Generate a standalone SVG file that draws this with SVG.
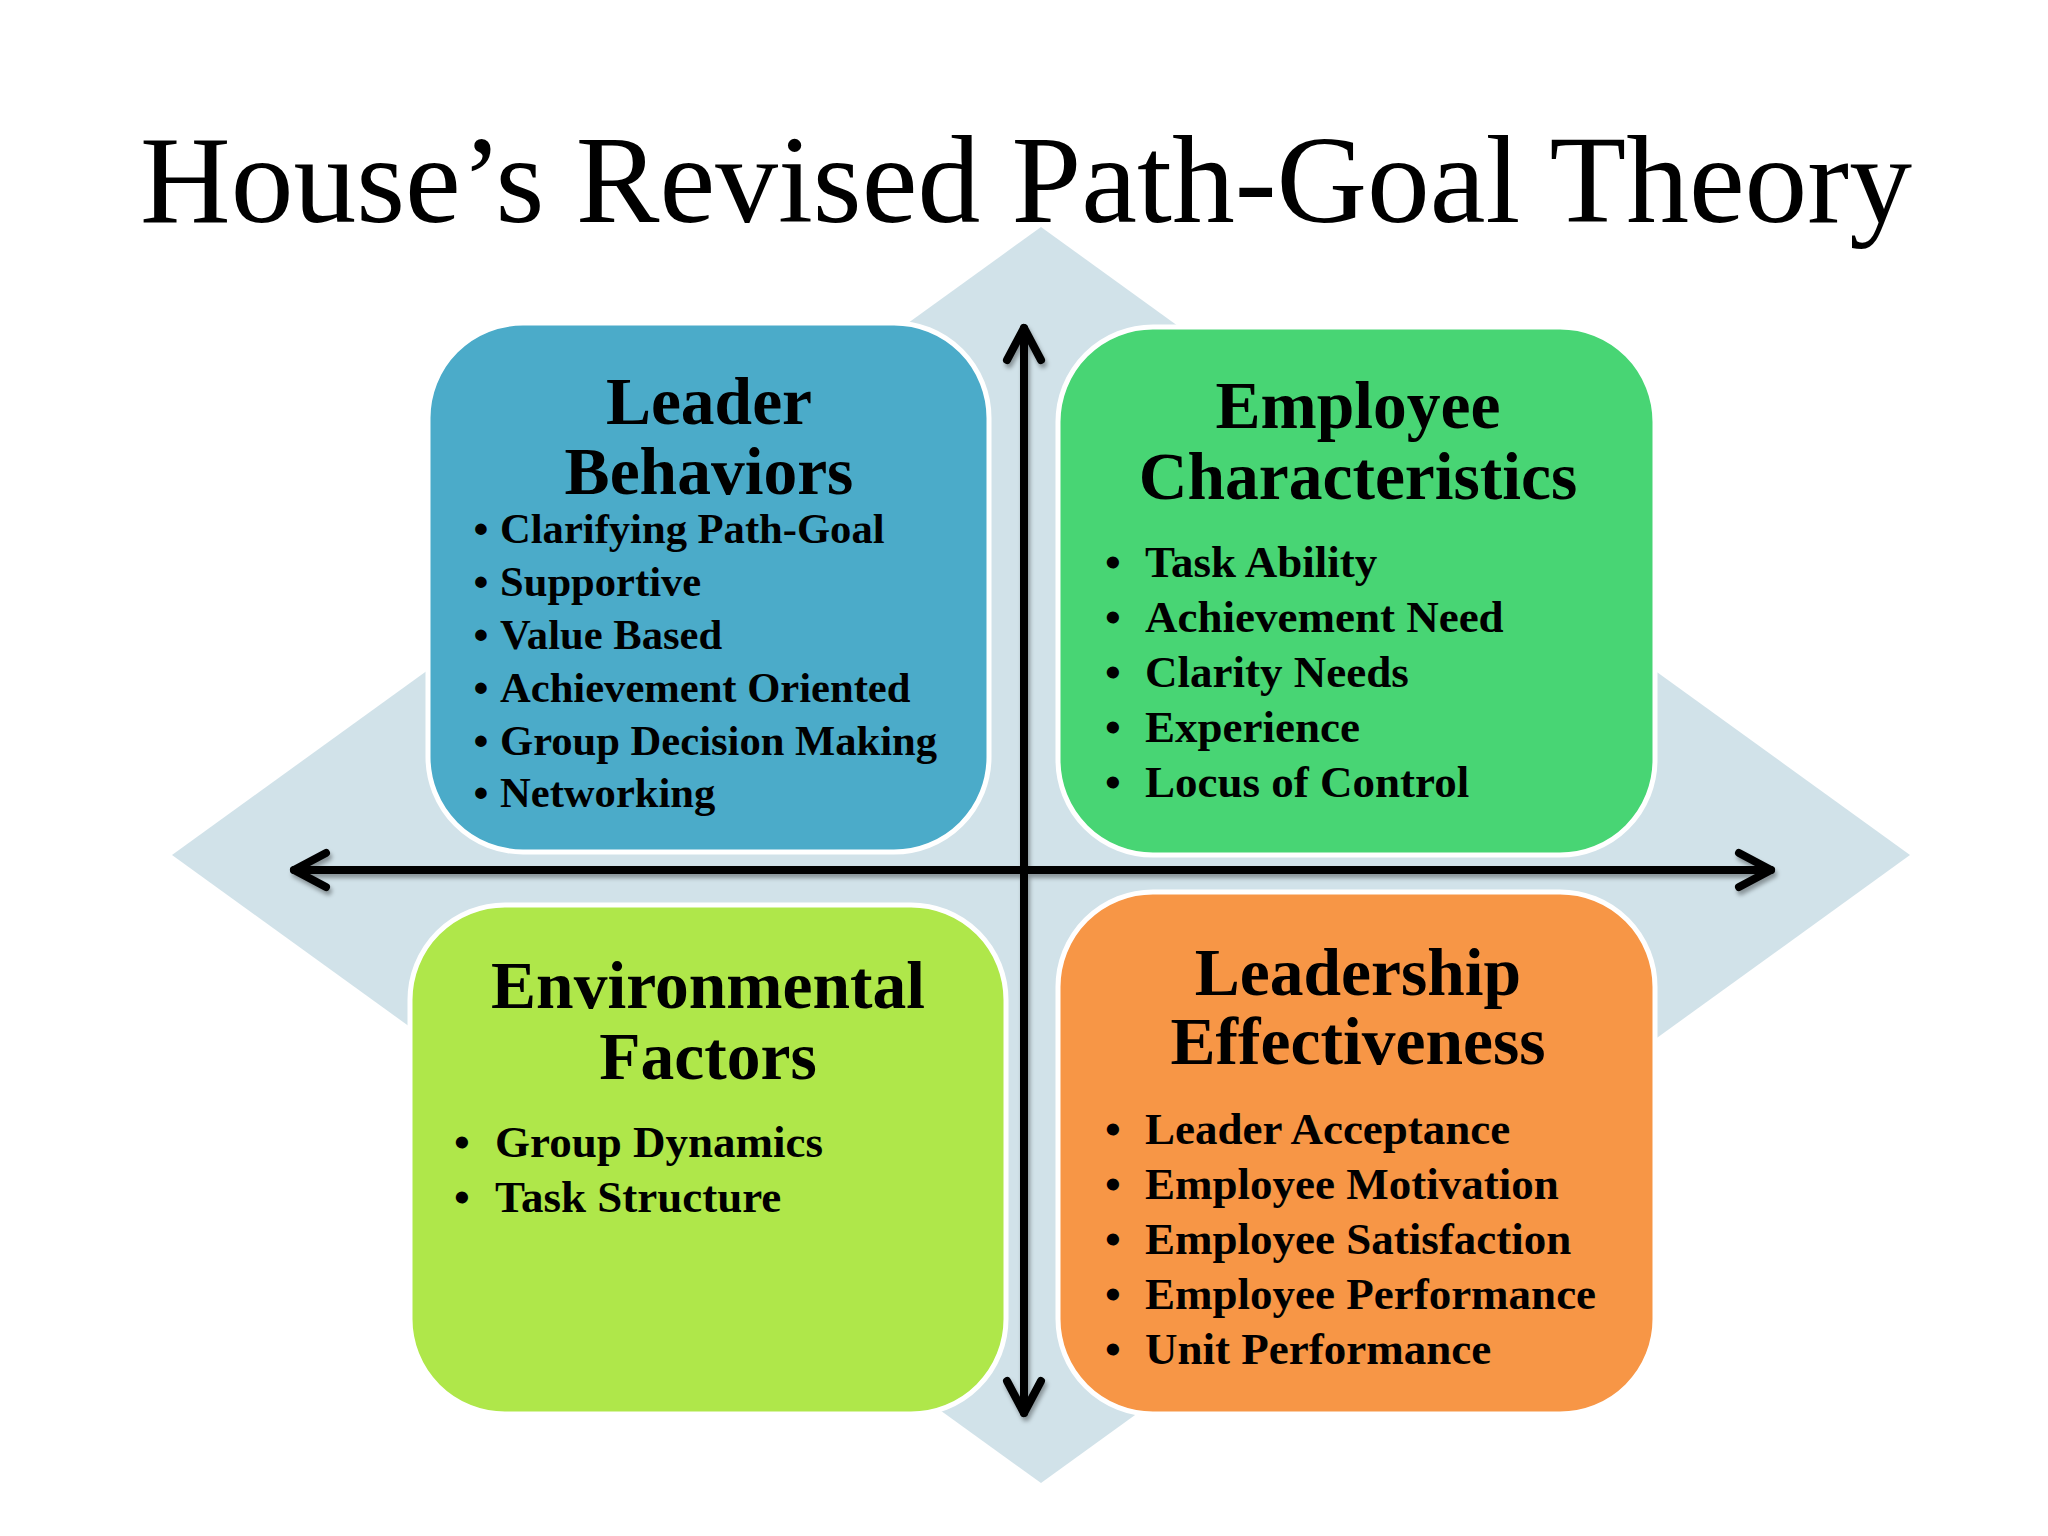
<svg xmlns="http://www.w3.org/2000/svg" width="2048" height="1536" viewBox="0 0 2048 1536">
  <defs>
    <style>
      .title { font-family: "Liberation Serif", "Times New Roman", serif; font-size: 125.5px; fill: #000; }
      .head { font-family: "Liberation Serif", "Times New Roman", serif; font-size: 67.5px; font-weight: bold; fill: #000; text-anchor: middle; }
      .item { font-family: "Liberation Serif", "Times New Roman", serif; font-weight: bold; fill: #000; }
      .s42 { font-size: 42.6px; }
      .s45 { font-size: 45px; }
      .bul { text-anchor: middle; }
      .box { stroke: #FFFFFF; stroke-width: 5; }
      .axis { fill: none; stroke: #000; stroke-width: 8; stroke-linecap: round; stroke-linejoin: round; }
    </style>
    <filter id="sh" x="-5%" y="-5%" width="110%" height="110%">
      <feDropShadow dx="2" dy="4" stdDeviation="2" flood-color="#000" flood-opacity="0.35"/>
    </filter>
  </defs>
  <rect width="2048" height="1536" fill="#FFFFFF"/>
  <text class="title" x="1026" y="222" text-anchor="middle">House’s Revised Path-Goal Theory</text>
  <polygon id="diamond" points="1041,227 1910,855 1041,1483 172,855" fill="#D1E2E9"/>

  <g id="leader-behaviors">
    <rect class="box" x="428" y="323" width="561" height="529" rx="95" ry="95" fill="#4BABC9"/>
    <text class="head" x="709" y="424">Leader</text>
    <text class="head" x="709" y="494">Behaviors</text>
    <g class="item s42">
      <text class="bul" x="481" y="543">•</text><text x="500" y="543">Clarifying Path-Goal</text>
      <text class="bul" x="481" y="596">•</text><text x="500" y="596">Supportive</text>
      <text class="bul" x="481" y="649">•</text><text x="500" y="649">Value Based</text>
      <text class="bul" x="481" y="702">•</text><text x="500" y="702">Achievement Oriented</text>
      <text class="bul" x="481" y="755">•</text><text x="500" y="755">Group Decision Making</text>
      <text class="bul" x="481" y="807">•</text><text x="500" y="807">Networking</text>
    </g>
  </g>

  <g id="employee-characteristics">
    <rect class="box" x="1058" y="327" width="597" height="528" rx="95" ry="95" fill="#48D574"/>
    <text class="head" x="1358" y="428">Employee</text>
    <text class="head" x="1358" y="499">Characteristics</text>
    <g class="item s45">
      <text class="bul" x="1113" y="577">•</text><text x="1145" y="577">Task Ability</text>
      <text class="bul" x="1113" y="632">•</text><text x="1145" y="632">Achievement Need</text>
      <text class="bul" x="1113" y="687">•</text><text x="1145" y="687">Clarity Needs</text>
      <text class="bul" x="1113" y="742">•</text><text x="1145" y="742">Experience</text>
      <text class="bul" x="1113" y="797">•</text><text x="1145" y="797">Locus of Control</text>
    </g>
  </g>

  <g id="environmental-factors">
    <rect class="box" x="410" y="905" width="596" height="509" rx="95" ry="95" fill="#AFE74A"/>
    <text class="head" x="708" y="1008">Environmental</text>
    <text class="head" x="708" y="1079">Factors</text>
    <g class="item s45">
      <text class="bul" x="462" y="1157">•</text><text x="495" y="1157">Group Dynamics</text>
      <text class="bul" x="462" y="1212">•</text><text x="495" y="1212">Task Structure</text>
    </g>
  </g>

  <g id="leadership-effectiveness">
    <rect class="box" x="1058" y="892" width="597" height="522" rx="95" ry="95" fill="#F79646"/>
    <text class="head" x="1358" y="995">Leadership</text>
    <text class="head" x="1358" y="1064">Effectiveness</text>
    <g class="item s45">
      <text class="bul" x="1113" y="1144">•</text><text x="1145" y="1144">Leader Acceptance</text>
      <text class="bul" x="1113" y="1199">•</text><text x="1145" y="1199">Employee Motivation</text>
      <text class="bul" x="1113" y="1254">•</text><text x="1145" y="1254">Employee Satisfaction</text>
      <text class="bul" x="1113" y="1309">•</text><text x="1145" y="1309">Employee Performance</text>
      <text class="bul" x="1113" y="1364">•</text><text x="1145" y="1364">Unit Performance</text>
    </g>
  </g>

  <g id="connectors" filter="url(#sh)">
    <path class="axis" d="M294,870 H1771"/>
    <path class="axis" d="M326,853 L294,870 L326,887"/>
    <path class="axis" d="M1739,853 L1771,870 L1739,887"/>
    <path class="axis" d="M1024,328 V1413"/>
    <path class="axis" d="M1007,360 L1024,328 L1041,360"/>
    <path class="axis" d="M1007,1381 L1024,1413 L1041,1381"/>
  </g>
</svg>
